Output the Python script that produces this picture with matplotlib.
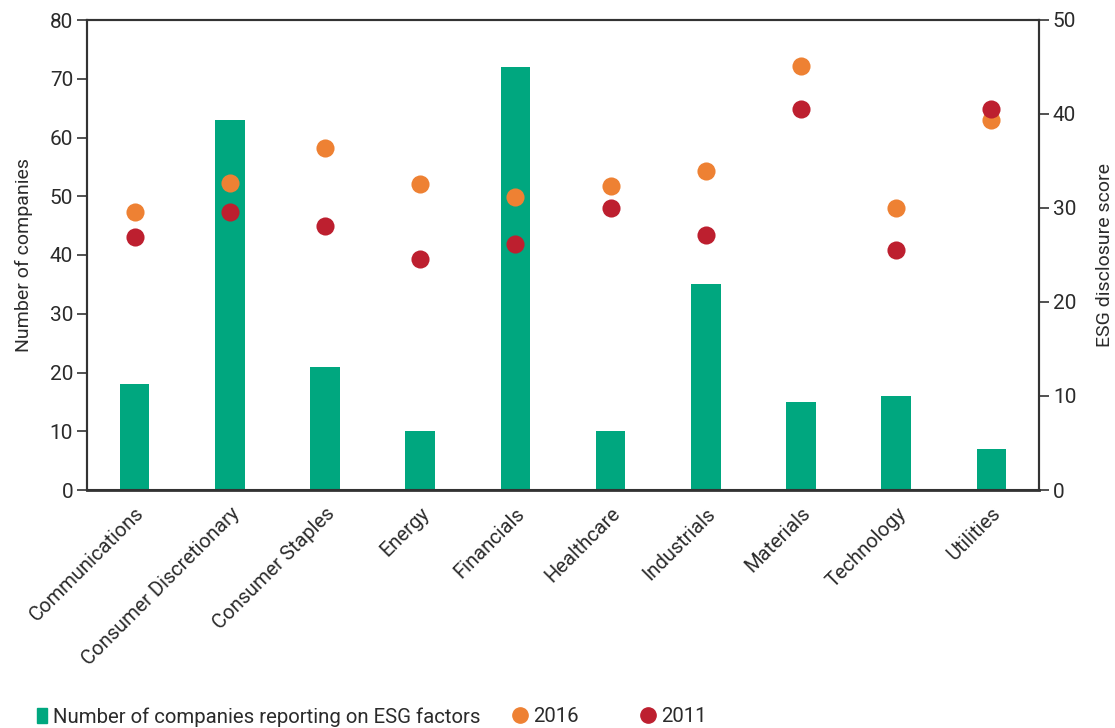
import matplotlib.pyplot as plt
from matplotlib.lines import Line2D
from matplotlib.patches import Patch
import numpy as np

plt.rcParams['font.family'] = ['Roboto', 'DejaVu Sans']

sectors = ['Communications', 'Consumer Discretionary', 'Consumer Staples', 'Energy',
           'Financials', 'Healthcare', 'Industrials', 'Materials', 'Technology', 'Utilities']
n_companies = [18, 63, 21, 10, 72, 10, 35, 15, 16, 7]
score_2016 = [29.6, 32.7, 36.4, 32.6, 31.2, 32.3, 33.9, 45.1, 30.0, 39.4]
score_2011 = [26.9, 29.6, 28.1, 24.6, 26.2, 30.0, 27.1, 40.5, 25.5, 40.5]

green = '#00A77F'
orange = '#EE8133'
red = '#BD1F2F'
axis_col = '#333333'
text_col = '#2b2b2b'

W, H = 1115, 728
fig = plt.figure(figsize=(W / 100, H / 100), dpi=100)
ax = fig.add_axes([87 / W, 1 - 490 / H, 952 / W, 470 / H])
x = np.arange(len(sectors))
ax.bar(x, n_companies, width=0.31, color=green, zorder=2)
ax.set_xlim(-0.5, len(sectors) - 0.5)
ax.set_ylim(0, 80)
ax.set_yticks(range(0, 81, 10))
ax.set_ylabel('Number of companies', fontsize=14, color=text_col, labelpad=12)
ax.set_xticks(x)
ax.set_xticklabels(sectors, rotation=45, ha='right', rotation_mode='anchor', fontsize=14.5, color=text_col)
ax.tick_params(axis='x', length=0, pad=10)
ax.tick_params(axis='y', length=7, width=1.2, color=axis_col, labelsize=15, labelcolor=text_col, pad=3)

ax2 = ax.twinx()
ax2.scatter(x, score_2016, s=170, color=orange, zorder=3, linewidths=0)
ax2.scatter(x, score_2011, s=170, color=red, zorder=3, linewidths=0)
ax2.set_ylim(0, 50)
ax2.set_yticks(range(0, 51, 10))
ax2.set_ylabel('ESG disclosure score', fontsize=14, color=text_col, labelpad=14)
ax2.tick_params(axis='y', length=7, width=1.2, color=axis_col, labelsize=15, labelcolor=text_col, pad=3)

for a in (ax, ax2):
    for s in a.spines.values():
        s.set_color(axis_col)
        s.set_linewidth(1.5)
ax.spines['bottom'].set_linewidth(2)

# legend entries placed one by one to match the uneven spacing
entries = [
    (Patch(color=green, label='Number of companies reporting on ESG factors'), 37, 0.5, 0.3),
    (Line2D([], [], marker='o', linestyle='', markersize=11, color=orange, label='2016'), 512, 0.75, 0.3),
    (Line2D([], [], marker='o', linestyle='', markersize=11, color=red, label='2011'), 640, 0.75, 0.3),
]
for handle, left_px, hlen, tpad in entries:
    fig.legend(handles=[handle], loc='center left', bbox_to_anchor=(left_px / W, 1 - 717 / H),
               frameon=False, fontsize=14.7, handlelength=hlen, handleheight=0.75,
               handletextpad=tpad, borderpad=0, borderaxespad=0, labelcolor=text_col)

fig.savefig('out.png', dpi=100)
